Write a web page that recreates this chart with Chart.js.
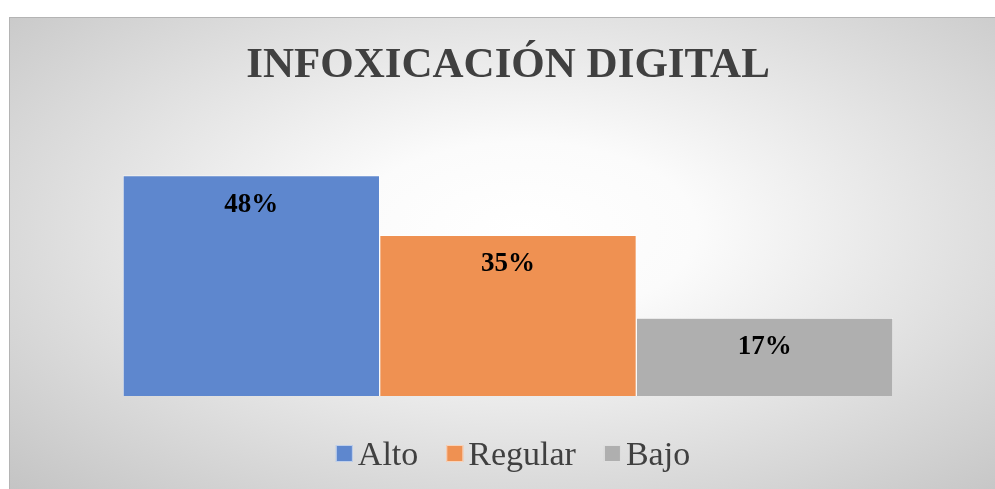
<!DOCTYPE html>
<html>
<head>
<meta charset="utf-8">
<script src="https://cdn.jsdelivr.net/npm/chart.js@4"></script>
<style>
  body { margin: 0; background: #ffffff; width: 995px; height: 489px; overflow: hidden; }
  #frame {
    position: absolute; left: 9px; top: 17px; width: 986px; height: 472px;
    border-top: 1px solid #b4b4b4; border-left: 1px solid #b4b4b4;
    background: radial-gradient(ellipse farthest-corner at 52% 45%, #ffffff 0%, #fbfbfb 24%, #c4c4c4 100%);
  }
</style>
</head>
<body>
<div id="frame"><canvas id="infoxChart" width="985" height="471"></canvas></div>
<script>
// Infoxicación digital - bar chart

const categories = [''];
const seriesNames = ['Alto', 'Regular', 'Bajo'];
const seriesValues = [48, 35, 17];
const seriesColors = ['#5e87ce', '#ef9152', '#afafaf'];

const serif = '"Liberation Serif", "Times New Roman", serif';

// draw the % labels inside each bar, near its top
const barLabels = {
    id: 'barLabels',
    afterDatasetsDraw(chart) {
        const c = chart.ctx;
        c.save();
        c.font = 'bold 27px ' + serif;
        c.fillStyle = '#000000';
        c.textAlign = 'center';
        c.textBaseline = 'middle';
        chart.data.datasets.forEach((ds, i) => {
            const bar = chart.getDatasetMeta(i).data[0];
            c.fillText(ds.data[0] + '%', bar.x, bar.y + 29);
        });
        c.restore();
    }
};

// legend drawn by hand so the box sits close to its text, like the original
const tightLegend = {
    id: 'tightLegend',
    afterDraw(chart) {
        const c = chart.ctx;
        const box = 17, gap = 5, spacing = 28;
        c.save();
        c.font = '34px ' + serif;
        const widths = seriesNames.map(n => c.measureText(n).width);
        const total = widths.reduce((a, w) => a + box + gap + w, 0) + spacing * (seriesNames.length - 1);
        const area = chart.chartArea;
        let x = (area.left + area.right) / 2 + 5 - total / 2;
        const baseline = area.bottom + 69;
        c.textBaseline = 'alphabetic';
        c.textAlign = 'left';
        seriesNames.forEach((n, i) => {
            c.fillStyle = seriesColors[i];
            c.fillRect(x, baseline - 20, box, box);
            c.strokeStyle = 'rgba(255,255,255,0.6)';
            c.lineWidth = 1;
            c.strokeRect(x + 0.5, baseline - 19.5, box - 1, box - 1);
            x += box + gap;
            c.fillStyle = '#404040';
            c.fillText(n, x, baseline);
            x += widths[i] + spacing;
        });
        c.restore();
    }
};

const ctx = document.getElementById('infoxChart').getContext('2d');
new Chart(ctx, {
    type: 'bar',
    data: {
        labels: categories,
        datasets: seriesNames.map((name, i) => ({
            label: name,
            data: [seriesValues[i]],
            backgroundColor: seriesColors[i],
            borderColor: 'rgba(255,255,255,0.55)',
            borderWidth: 1,
            categoryPercentage: 1,
            barPercentage: 1
        }))
    },
    options: {
        responsive: false,
        animation: false,
        layout: { padding: { left: 113, right: 102, top: 0, bottom: 0 } },
        scales: {
            x: {
                display: true,
                grid: { display: false },
                border: { display: false },
                ticks: { display: false },
                afterFit: (axis) => { axis.height = 93; }
            },
            y: { display: false, min: 0, max: 60 }
        },
        plugins: {
            title: {
                display: true,
                text: 'INFOXICACIÓN DIGITAL',
                color: '#404040',
                font: { family: serif, size: 43, weight: 'bold' },
                padding: { top: 22, bottom: 29 }
            },
            legend: { display: false },
            tooltip: { enabled: false }
        }
    },
    plugins: [barLabels, tightLegend]
});
</script>
</body>
</html>
